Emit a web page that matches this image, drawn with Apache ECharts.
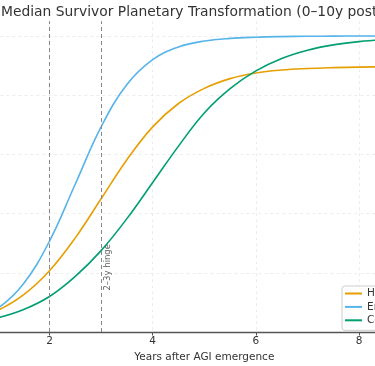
<!DOCTYPE html>
<html>
<head>
<meta charset="utf-8">
<script src="https://cdn.jsdelivr.net/npm/echarts@6/dist/echarts.min.js"></script>
<style>
html,body{margin:0;padding:0;background:#fff}
#wrap{position:relative;width:375px;height:366px;overflow:hidden}
#c{position:absolute;left:-54px;top:0;width:517px;height:366px}
</style>
</head>
<body>
<div id="wrap"><div id="c"></div></div>
<script>
const titleText = 'Median Survivor Planetary Transformation (0–10y post-AGI)';
const xLabel = 'Years after AGI emergence';
const years = [0,0.5,1,1.5,2,2.5,3,3.5,4,4.5,5,5.5,6,6.5,7,7.5,8,8.5,9,9.5,10];
const seriesNames = ['Human habitat', 'Energy capture', 'Compute substrate'];
const humanVals   = [2.3,4.2,7.3,12.6,20.7,31.8,45.0,58.2,69.3,77.2,82.3,85.6,87.5,88.5,89.0,89.3,89.5,89.6,89.7,89.7,89.8];
const energyVals  = [1.7,3.7,8.0,16.4,30.7,50.0,69.3,83.6,92.0,96.3,98.3,99.2,99.6,99.8,99.9,99.95,100,100,100,100,100];
const computeVals = [1.9,3.1,4.8,7.6,12.0,18.8,27.5,38.3,50.5,62.8,74.0,82.2,88.2,92.4,95.2,97.0,98.1,98.8,99.3,99.6,99.8];
const hingeYears = [2, 3];
const hingeLabel = '2–3y hinge';
const hingeLabelPos = [3.05, 14];
const colors = ['#E69F00', '#56B4E9', '#009E73'];

const font = 'DejaVu Sans';
const shift = 54;
const pair = v => years.map((x, i) => [x, v[i]]);
const allVals = [humanVals, energyVals, computeVals];

const chart = echarts.init(document.getElementById('c'), null, {renderer: 'canvas'});
const series = allVals.map((v, i) => ({
  name: seriesNames[i],
  type: 'line',
  data: pair(v),
  smooth: 0.4,
  showSymbol: false,
  symbol: 'none',
  lineStyle: {color: colors[i], width: 1.6},
  itemStyle: {color: colors[i]},
  z: 3
}));
series[0].markLine = {
  silent: true,
  symbol: ['none', 'none'],
  label: {show: false},
  lineStyle: {color: '#888', type: [4, 3], width: 1},
  data: hingeYears.map(x => ({xAxis: x}))
};
series.push({
  type: 'scatter',
  data: [hingeLabelPos],
  symbolSize: 0,
  silent: true,
  label: {
    show: true,
    formatter: hingeLabel,
    rotate: 90,
    position: [0, 0],
    align: 'left',
    verticalAlign: 'top',
    fontFamily: font,
    fontSize: 8.5,
    color: '#333'
  }
});

chart.setOption({
  animation: false,
  backgroundColor: '#fff',
  title: {
    text: titleText,
    left: shift + 1,
    top: 5,
    padding: 0,
    textStyle: {fontFamily: font, fontSize: 13.85, fontWeight: 'normal', color: '#333'}
  },
  legend: {
    data: seriesNames,
    left: 342 + shift,
    top: 286,
    orient: 'vertical',
    icon: 'rect',
    itemWidth: 17,
    itemHeight: 2,
    itemGap: 1.4,
    itemStyle: {borderWidth: 0},
    padding: [1.5, 4, 4, 3],
    backgroundColor: 'rgba(255,255,255,0.85)',
    borderColor: '#ccc',
    borderWidth: 1,
    borderRadius: 3,
    textStyle: {fontFamily: font, fontSize: 10.5, color: '#333', lineHeight: 12}
  },
  grid: {left: 0.3, right: 0.7, top: 21.2, bottom: 34, containLabel: false, outerBoundsMode: 'none'},
  xAxis: {
    type: 'value',
    min: 0, max: 10, interval: 2,
    name: xLabel,
    nameLocation: 'middle',
    nameGap: 14.5,
    nameTextStyle: {fontFamily: font, fontSize: 10.5, color: '#333'},
    axisLine: {lineStyle: {color: '#555', width: 1.3}},
    axisTick: {show: true, length: 3.5, lineStyle: {color: '#555'}},
    axisLabel: {fontFamily: font, fontSize: 10.5, color: '#333', margin: 4},
    splitLine: {show: true, lineStyle: {color: '#e8e8e8', type: [3, 3], width: 0.8}}
  },
  yAxis: {
    type: 'value',
    min: 0, max: 105, interval: 20,
    axisLine: {show: false},
    axisTick: {show: false},
    axisLabel: {show: false},
    splitLine: {show: true, showMaxLine: false, showMinLine: false, lineStyle: {color: '#e8e8e8', type: [3, 3], width: 0.8}}
  },
  series: series
});
</script>
</body>
</html>
